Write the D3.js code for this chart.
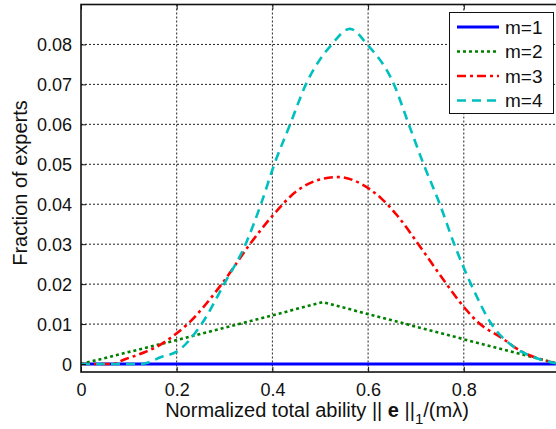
<!DOCTYPE html>
<html><head><meta charset="utf-8">
<script src="https://cdn.jsdelivr.net/npm/d3@7"></script>
<style>body{margin:0;background:#fff;overflow:hidden}svg{display:block}text{font-family:"Liberation Sans",Arial,sans-serif}</style>
</head><body><svg id="c" width="556" height="429"></svg>
<script>
const xTicks = [0, 0.2, 0.4, 0.6, 0.8, 1];
const yTicks = [0, 0.01, 0.02, 0.03, 0.04, 0.05, 0.06, 0.07, 0.08];
const seriesNames = ["m=1", "m=2", "m=3", "m=4"];
const m1 = [[0,0],[1,0]];
const m2 = [[0,0],[0.2,0.0060],[0.35,0.0106],[0.505,0.0155],[0.67,0.0103],[0.8,0.0062],[1,0]];
const m3 = [[0,0],[0.064,0],[0.092,0.0012],[0.134,0.0030],[0.158,0.0043],[0.2,0.0077],[0.221,0.0098],[0.294,0.0200],[0.353,0.0300],[0.398,0.0368],[0.451,0.0433],[0.494,0.0460],[0.538,0.0468],[0.587,0.0450],[0.628,0.0414],[0.66,0.0373],[0.705,0.0300],[0.764,0.0200],[0.8,0.0143],[0.834,0.0100],[0.876,0.0068],[0.921,0.0031],[0.966,0.0010],[1,0]];
const m4 = [[0,0],[0.125,0],[0.169,0.0018],[0.2,0.0031],[0.252,0.0100],[0.299,0.0200],[0.344,0.0300],[0.376,0.0400],[0.404,0.0500],[0.437,0.0600],[0.47,0.0700],[0.524,0.0800],[0.562,0.0839],[0.598,0.0800],[0.654,0.0700],[0.685,0.0600],[0.716,0.0500],[0.75,0.0400],[0.78,0.0300],[0.815,0.0200],[0.858,0.0100],[0.904,0.0043],[0.945,0.0018],[1,0]];
const seriesData = [m1, m2, m3, m4];
const colors = ["#0000ff", "#008000", "#ff0000", "#00bfbf"];
const dashes = [null, "3,3", "9,4,3,4", "9,6"];
const curves = [d3.curveLinear, d3.curveLinear, d3.curveMonotoneX, d3.curveMonotoneX];

const svg = d3.select("#c");
const L = 81, R = 559.5, T = 4.5, B = 372;
const x = d3.scaleLinear().domain([0, 1]).range([L, R]);
const y = d3.scaleLinear().domain([-0.002, 0.09]).range([B, T]);

// grid
const g = svg.append("g");
g.selectAll(".gx").data(xTicks.slice(1)).enter().append("line")
  .attr("x1", d => x(d)).attr("x2", d => x(d)).attr("y1", T).attr("y2", B)
  .attr("stroke", "#222").attr("stroke-width", 1).attr("stroke-dasharray", "2,2");
g.selectAll(".gy").data(yTicks).enter().append("line")
  .attr("y1", d => y(d)).attr("y2", d => y(d)).attr("x1", L).attr("x2", R)
  .attr("stroke", "#222").attr("stroke-width", 1).attr("stroke-dasharray", "2,2");

// lines
svg.append("clipPath").attr("id", "pc").append("rect").attr("x", L).attr("y", T).attr("width", R - L).attr("height", B - T);
seriesData.forEach((s, i) => {
  const line = d3.line().x(d => x(d[0])).y(d => y(d[1])).curve(curves[i]);
  svg.append("path").datum(s).attr("d", line).attr("fill", "none")
    .attr("stroke", colors[i]).attr("stroke-width", i === 0 ? 3 : 2.6)
    .attr("stroke-dasharray", dashes[i]).attr("clip-path", "url(#pc)");
});

// axes (inward ticks)
const xAxis = d3.axisBottom(x).tickValues(xTicks).tickSize(-5).tickPadding(11).tickFormat(d3.format("~g"));
const yAxis = d3.axisLeft(y).tickValues(yTicks).tickSize(-5).tickPadding(9).tickFormat(d3.format("~g"));
const ax = svg.append("g").attr("transform", `translate(0,${B})`).call(xAxis);
const ay = svg.append("g").attr("transform", `translate(${L},0)`).call(yAxis);
const axTop = svg.append("g").attr("transform", `translate(0,${T})`).call(d3.axisTop(x).tickValues(xTicks).tickSize(-5).tickFormat(""));
[ax, ay, axTop].forEach(a => {
  a.select(".domain").remove();
  a.selectAll("line").attr("stroke", "#111").attr("stroke-width", 1);
  a.selectAll("text").attr("font-size", 18).attr("fill", "#111").style("font-family", '"Liberation Sans",Arial,sans-serif');
});
ay.selectAll("text").attr("dy", "0.36em");
svg.append("rect").attr("x", L).attr("y", T).attr("width", R - L).attr("height", B - T)
  .attr("fill", "none").attr("stroke", "#111").attr("stroke-width", 1.6);

// axis labels
const xl = svg.append("text").attr("x", 317).attr("y", 417).attr("text-anchor", "middle").attr("font-size", 20).attr("fill", "#111");
xl.append("tspan").text("Normalized total ability || ");
xl.append("tspan").attr("font-weight", "bold").text("e");
xl.append("tspan").text(" ||");
xl.append("tspan").attr("font-size", 15).attr("dy", 7).text("1");
xl.append("tspan").attr("dy", -7).text("/(mλ)");
svg.append("text").attr("transform", "translate(27,183) rotate(-90)").attr("text-anchor", "middle")
  .attr("font-size", 20).attr("fill", "#111").text("Fraction of experts");

// legend
const lg = svg.append("g");
lg.append("rect").attr("x", 449.5).attr("y", 12.5).attr("width", 104).attr("height", 101)
  .attr("fill", "#fff").attr("stroke", "#111").attr("stroke-width", 1);
seriesNames.forEach((n, i) => {
  const yy = 27 + i * 24.5;
  lg.append("line").attr("x1", 457).attr("x2", 499).attr("y1", yy).attr("y2", yy)
    .attr("stroke", colors[i]).attr("stroke-width", i === 0 ? 3 : 2.6).attr("stroke-dasharray", dashes[i]);
  lg.append("text").attr("x", 505).attr("y", yy).attr("dy", "0.36em").attr("font-size", 19).attr("fill", "#111").text(n);
});
</script></body></html>
